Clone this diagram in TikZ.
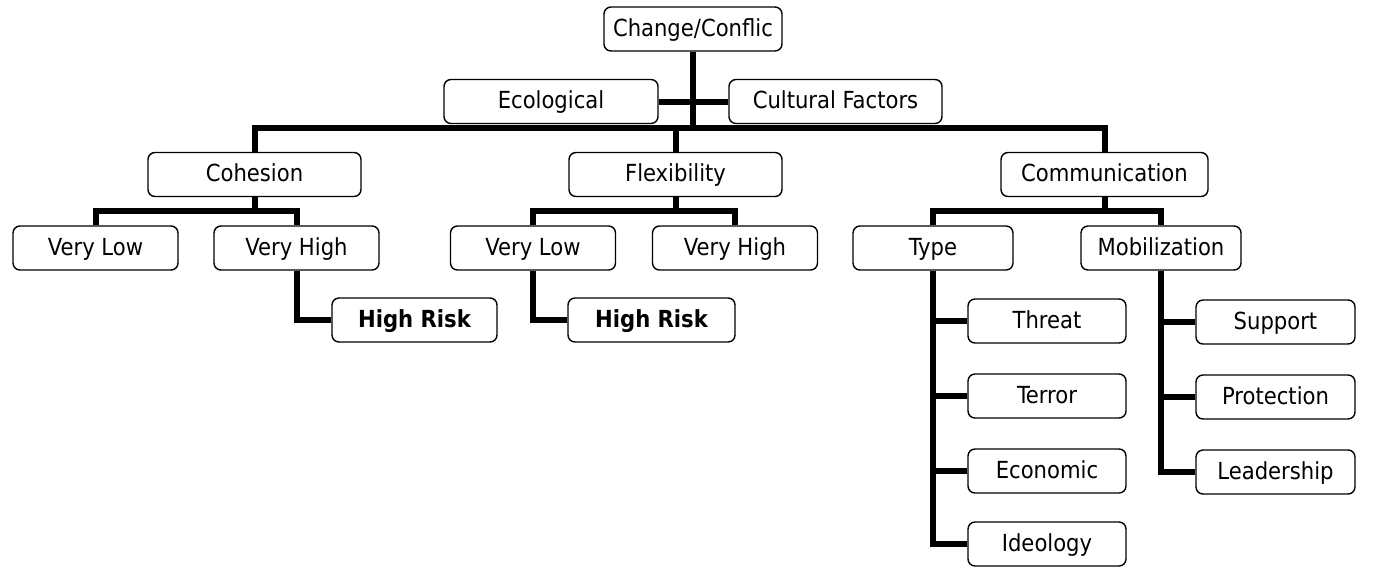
\documentclass[tikz,border=0pt]{standalone}
\usepackage{fontspec}
\setmainfont{DejaVu Sans Condensed}
\begin{document}
\begin{tikzpicture}[x=1pt,y=-1pt,line join=miter,
  cell/.style={draw,rounded corners=7pt,line width=1.4pt,minimum height=44pt,inner sep=0pt,
    text height=18pt,text depth=4pt,font=\fontsize{23.5}{27}\selectfont},
  wire/.style={line width=6pt}]
\useasboundingbox (0,0) rectangle (1381,566);
\def\w{165pt}
% top
\node[cell,minimum width=178pt] (chg) at (693,29) {Change/Conflic};
\node[cell,minimum width=214pt] (eco) at (551,101.5) {Ecological};
\node[cell,minimum width=213pt] (cul) at (835.5,101.5) {Cultural Factors};
% second row
\node[cell,minimum width=213pt] (coh) at (254.5,174.5) {Cohesion};
\node[cell,minimum width=213pt] (flx) at (675.5,174.5) {Flexibility};
\node[cell,minimum width=207pt] (com) at (1104.5,174.5) {Communication};
% third row
\node[cell,minimum width=\w] (cvl) at (95.5,248) {Very Low};
\node[cell,minimum width=\w] (cvh) at (296.5,248) {Very High};
\node[cell,minimum width=\w] (fvl) at (533,248) {Very Low};
\node[cell,minimum width=\w] (fvh) at (735,248) {Very High};
\node[cell,minimum width=160pt] (typ) at (933,248) {Type};
\node[cell,minimum width=160pt] (mob) at (1161,248) {Mobilization};
% risk
\node[cell,minimum width=\w,font=\fontsize{23.5}{27}\selectfont\bfseries] (hr1) at (414.5,320) {High Risk};
\node[cell,minimum width=167pt,font=\fontsize{23.5}{27}\selectfont\bfseries] (hr2) at (651.5,320) {High Risk};
% type and mobilization
\node[cell,minimum width=158pt] (thr) at (1047,321) {Threat};
\node[cell,minimum width=158pt] (ter) at (1047,396) {Terror};
\node[cell,minimum width=158pt] (ecn) at (1047,471) {Economic};
\node[cell,minimum width=158pt] (ide) at (1047,544) {Ideology};
\node[cell,minimum width=159pt] (sup) at (1275.5,322) {Support};
\node[cell,minimum width=159pt] (pro) at (1275.5,397) {Protection};
\node[cell,minimum width=159pt] (lea) at (1275.5,472) {Leadership};
% connectors
\coordinate (top) at (693,128);
\draw[wire] (chg.south) -- (top);
\draw[wire] (eco) -- (cul);
\draw[wire] (coh.north) |- (top) -| (com.north);
\draw[wire] (flx.north) -- (flx.north |- top);
\foreach \p/\a/\b in {coh/cvl/cvh,flx/fvl/fvh,com/typ/mob}{
  \path (\p.south) ++(0,14) coordinate (\p-b);
  \draw[wire] (\p.south) -- (\p-b);
  \draw[wire] (\a.north) |- (\p-b) -| (\b.north);
}
\draw[wire] (cvh.south) |- (hr1.west);
\draw[wire] (fvl.south) |- (hr2.west);
\foreach \c in {thr,ter,ecn,ide}
  \draw[wire] (typ.south) |- (\c.west);
\foreach \c in {sup,pro,lea}
  \draw[wire] (mob.south) |- (\c.west);
\end{tikzpicture}
\end{document}
